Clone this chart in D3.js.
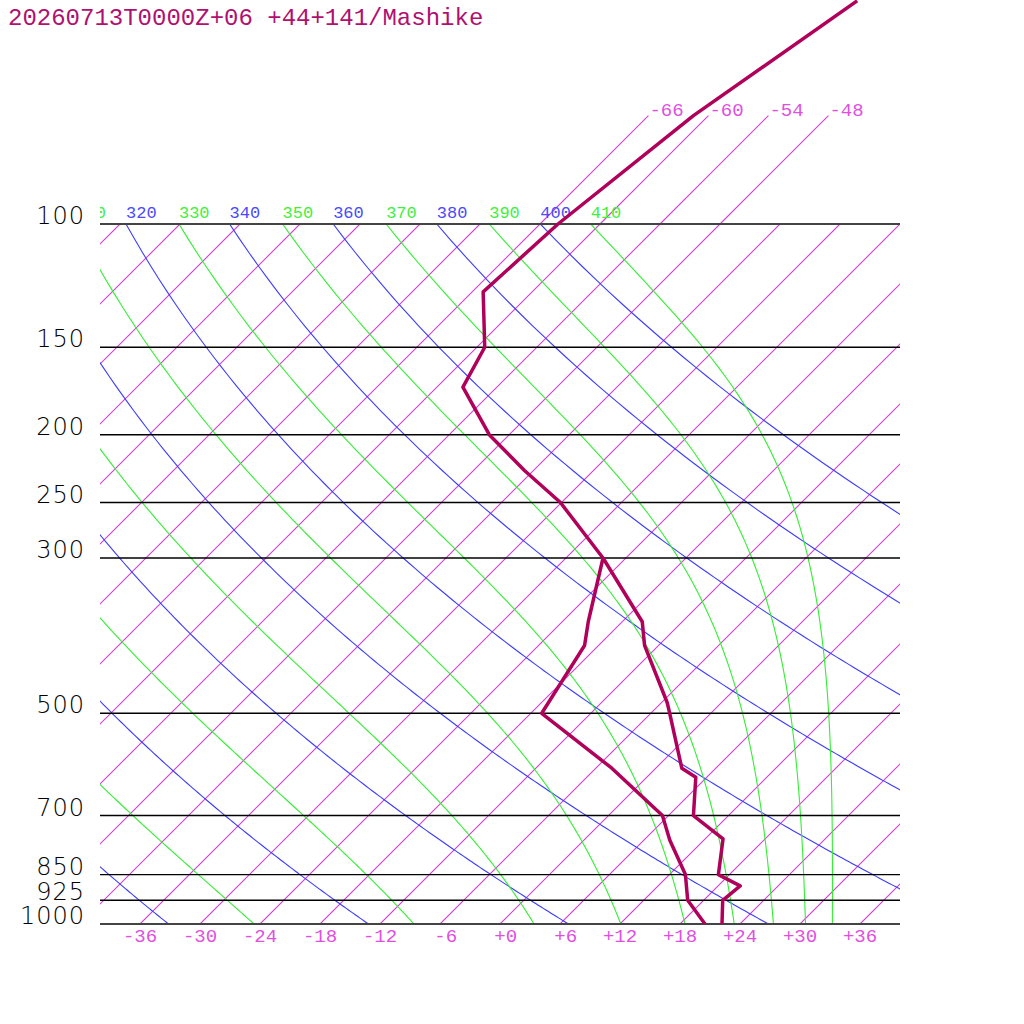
<!DOCTYPE html>
<html>
<head>
<meta charset="utf-8">
<script src="https://cdn.jsdelivr.net/npm/d3@7"></script>
<style>
  body { margin: 0; background: #fff; }
  text { white-space: pre; }
  path.iso, path.upiso { stroke: rgb(212, 64, 212); }
</style>
</head>
<body>
<div id="chart"></div>
<script>
// isobars drawn as horizontal lines, with labels on the left
var pressure_levels = [1000, 925, 850, 700, 500, 300, 250, 200, 150, 100]
// isotherm labels along the bottom (deg C)
var isotherm_labels = [-36, -30, -24, -18, -12, -6, 0, 6, 12, 18, 24, 30, 36]
// isotherms that continue above 100 hPa, labelled at the top
var upper_isotherms = [-66, -60, -54, -48]
// dry adiabats (potential temperature, K) in blue
var theta_dry = [240, 260, 280, 300, 320, 340, 360, 380, 400]
// moist adiabats (equivalent potential temperature, K) in green
var theta_moist = [250, 270, 290, 310, 330, 350, 370, 390, 410]

// sounding
var temp_p = [1000, 925, 882, 850, 756, 700, 617, 599, 500, 483, 400, 370, 300, 250, 225, 200, 171, 150, 125, 100, 70, 48]
var temp_t = [22.2, 19.9, 20.2, 16.9, 13.8, 8.5, 4.9, 2.6, -4.1, -5.4, -13.4, -16.0, -26.3, -36.1, -42.9, -50.0, -57.4, -59.2, -64.9, -64.2, -61.5, -56.6]
var dew_p = [1000, 925, 850, 759, 700, 599, 500, 400, 370, 300]
var dew_t = [20.5, 16.4, 13.6, 8.6, 5.4, -4.4, -16.9, -19.4, -21.4, -26.3]

var title = "20260713T0000Z+06 +44+141/Mashike"

var width = 1024, height = 1024
var margins = {left: 100, right: 124, top: 224, bottom: 100}
var inner_width = width - margins.left - margins.right
var inner_height = height - margins.top - margins.bottom
var mono = "'Liberation Mono', 'DejaVu Sans Mono', monospace"

var svg = d3.select("#chart").append("svg")
            .attr("width", width)
            .attr("height", height)

var scaley = d3.scaleLog()
               .domain([1000, 100])
               .range([margins.top + inner_height, margins.top])

var scalex = d3.scaleLinear()
               .domain([-40, 40]) // at 1000 hPa
               .range([margins.left, margins.left + inner_width])

var bottom = scaley(1000)

// skewed x: isotherms lean 45 degrees
function skewx(t, p) { return scalex(t) + (bottom - scaley(p)) }

var line = d3.line()
             .x(function (d) { return skewx(d.t, d.p) })
             .y(function (d) { return scaley(d.p) })

svg.append("clipPath").attr("id", "plot")
   .append("rect")
   .attr("x", margins.left).attr("y", margins.top)
   .attr("width", inner_width).attr("height", inner_height)

svg.append("clipPath").attr("id", "labels")
   .append("rect")
   .attr("x", margins.left).attr("y", 0)
   .attr("width", inner_width).attr("height", margins.top)

var grid = svg.append("g").attr("clip-path", "url(#plot)")

// pressure steps for the curved adiabats
var steps = d3.range(1000, 99, -5)

function dry_t(theta, p) { return theta * Math.pow(p / 1000, 0.2857) - 273.15 }

// bolton (1980) theta-e of saturated air
function theta_e(t, p) {
   var tk = t + 273.15
   var es = 6.112 * Math.exp(17.67 * t / (t + 243.5))
   var r = 1000 * 0.622 * es / (p - es)
   return tk * Math.pow(1000 / p, 0.2854 * (1 - 0.00028 * r)) *
          Math.exp((3.376 / tk - 0.00254) * r * (1 + 0.00081 * r))
}

function moist_t(te, p) {
   var lo = -150, hi = 40
   for (var i = 0; i < 60; i++) {
      var mid = (lo + hi) / 2
      if (theta_e(mid, p) < te) lo = mid
      else hi = mid
   }
   return (lo + hi) / 2
}

// isotherms, sampled along pressure like the other lines
var iso_steps = [1000, 700, 500, 300, 200, 150, 100]
var all_isotherms = d3.range(-108, 37, 6)
grid.selectAll("path.iso").data(all_isotherms)
   .enter().append("path")
   .attr("class", "iso")
   .attr("d", function (t) {
      return line(iso_steps.map(function (p) { return {t: t, p: p} }))
   })
   .attr("stroke-width", 1.1)
   .attr("fill", "none")

svg.selectAll("path.upiso").data(upper_isotherms)
   .enter().append("path")
   .attr("class", "upiso")
   .attr("d", function (t) { return line([{t: t, p: 100}, {t: t, p: 85}, {t: t, p: 70}]) })
   .attr("stroke-width", 1.1)
   .attr("fill", "none")

// dry adiabats
grid.selectAll("path.dry").data(theta_dry)
   .enter().append("path")
   .attr("class", "dry")
   .attr("d", function (th) {
      return line(steps.map(function (p) { return {t: dry_t(th, p), p: p} }))
   })
   .style("stroke", "#3c3cff")
   .style("stroke-width", 1.1)
   .style("fill", "none")

// moist adiabats
grid.selectAll("path.moist").data(theta_moist)
   .enter().append("path")
   .attr("class", "moist")
   .attr("d", function (te) {
      return line(steps.map(function (p) { return {t: moist_t(te, p), p: p} }))
   })
   .style("stroke", "#33ee33")
   .style("stroke-width", 1.1)
   .style("fill", "none")

// isobars
svg.selectAll("line.isobar").data(pressure_levels)
   .enter().append("line")
   .attr("class", "isobar")
   .attr("x1", margins.left).attr("x2", margins.left + inner_width)
   .attr("y1", function (p) { return scaley(p) })
   .attr("y2", function (p) { return scaley(p) })
   .style("stroke", function (p) { return (p == 1000 || p == 100) ? "#444" : "#000" })
   .style("stroke-width", function (p) { return (p == 1000 || p == 100) ? 2 : 1.4 })

svg.selectAll("text.plabel").data(pressure_levels)
   .enter().append("text")
   .attr("class", "plabel")
   .attr("x", 85)
   .attr("y", function (p) { return scaley(p) })
   .attr("text-anchor", "end")
   .attr("font-family", "'DejaVu Sans', sans-serif")
   .attr("font-weight", 300)
   .attr("font-size", 24)
   .attr("letter-spacing", 1)
   .attr("fill", "#000")
   .text(function (p) { return p })

function signed(t) { return (t < 0 ? "-" : "+") + Math.abs(t) }

// bottom temperature labels
svg.selectAll("text.tlabel").data(isotherm_labels)
   .enter().append("text")
   .attr("class", "tlabel")
   .attr("x", function (t) { return scalex(t) })
   .attr("y", bottom + 18)
   .attr("text-anchor", "middle")
   .attr("font-family", mono)
   .attr("font-size", 19)
   .attr("fill", "#e050e0")
   .text(function (t) { return signed(t).padStart(3, " ") })

// top labels of upper isotherms
svg.selectAll("text.ulabel").data(upper_isotherms)
   .enter().append("text")
   .attr("class", "ulabel")
   .attr("x", function (t) { return skewx(t, 70) + 1 })
   .attr("y", scaley(70))
   .attr("font-family", mono)
   .attr("font-size", 19)
   .attr("fill", "#e050e0")
   .text(function (t) { return signed(t) })

// adiabat labels along 100 hPa, only those that reach the plot
var adiabat_labels = theta_dry.map(function (th) { return {v: th, t: dry_t(th, 100), c: "#4a4aff"} })
   .concat(theta_moist.map(function (te) { return {v: te, t: moist_t(te, 100), c: "#40f040"} }))
   .filter(function (d) { return skewx(d.t, 100) > margins.left - 32 })

svg.append("g").attr("clip-path", "url(#labels)")
   .selectAll("text").data(adiabat_labels)
   .enter().append("text")
   .attr("x", function (d) { return skewx(d.t, 100) })
   .attr("y", scaley(100) - 6)
   .attr("font-family", mono)
   .attr("font-size", 17)
   .attr("fill", function (d) { return d.c })
   .text(function (d) { return d.v })

// sounding lines
var temps = temp_p.map(function (p, i) { return {p: p, t: temp_t[i]} })
var dews = dew_p.map(function (p, i) { return {p: p, t: dew_t[i]} })

svg.append("path")
   .attr("d", line(dews))
   .style("stroke", "#b0005a")
   .style("stroke-width", 3.5)
   .style("stroke-linejoin", "round")
   .style("fill", "none")

svg.append("path")
   .attr("d", line(temps))
   .style("stroke", "#b0005a")
   .style("stroke-width", 3.5)
   .style("stroke-linejoin", "round")
   .style("fill", "none")

svg.append("text")
   .attr("x", 8)
   .attr("y", 25)
   .attr("font-family", mono)
   .attr("font-size", 24)
   .attr("fill", "#b01070")
   .text(title)
</script>
</body>
</html>
